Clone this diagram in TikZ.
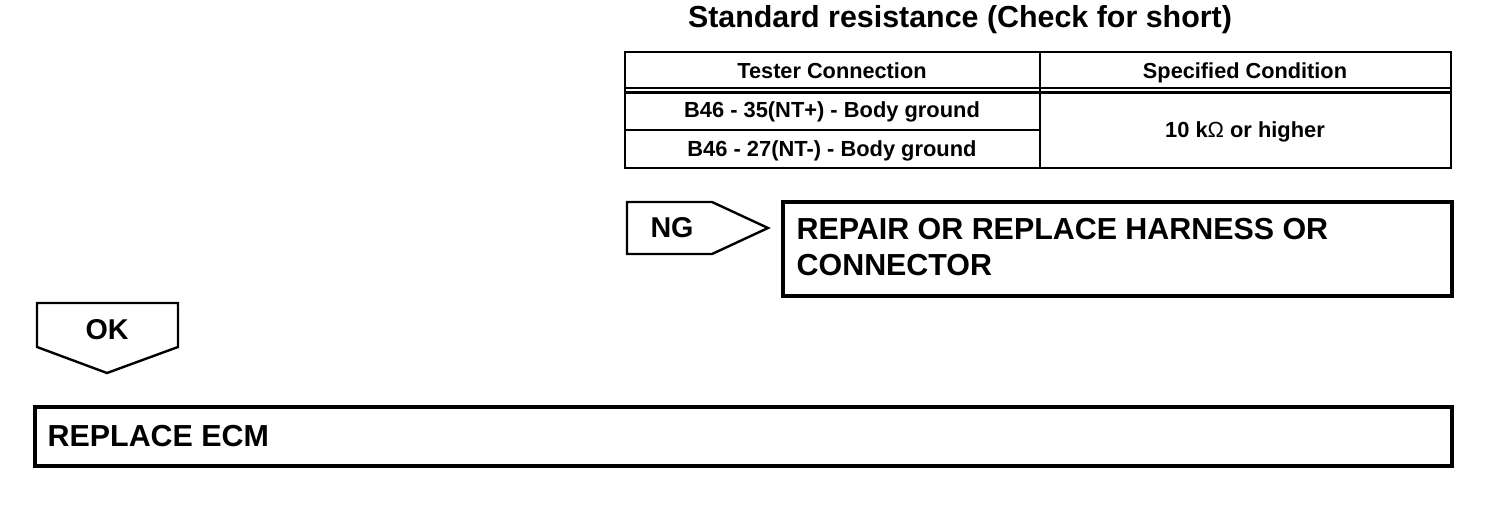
\documentclass[tikz,border=0pt]{standalone}
\usepackage{fontspec}
\setmainfont{Liberation Sans}
\usetikzlibrary{positioning}

\begin{document}
\begin{tikzpicture}[
  x=0.75pt,y=-0.75pt,
  frame/.style={draw=black,line width=2.6pt},
  rule/.style={draw=black,line width=1.8pt},
  head/.style={font=\bfseries\fontsize{16.3}{18}\selectfont,text height=0.72em,text depth=0.2em},
  cell/.style={font=\bfseries\fontsize{16.4}{18}\selectfont,text height=0.72em,text depth=0.2em},
  big/.style={font=\bfseries\fontsize{22.8}{27}\selectfont,align=left},
  tag/.style={font=\bfseries\fontsize{21.5}{23}\selectfont}
]
  \useasboundingbox (0,0) rectangle (1504,510);

  \node[font=\bfseries\fontsize{22.8}{26}\selectfont] (title) at (960,20)
    {Standard resistance (Check for short)};

  % resistance table
  \draw[rule] (625,52) rectangle (1451,168);
  \draw[rule] (1040,52) -- (1040,168);
  \draw[rule] (625,88) -- (1451,88);
  \draw[rule] (625,92.5) -- (1451,92.5);
  \draw[rule] (625,130) -- (1040,130);
  \node[head] (hdrconn) at (832,75) {Tester Connection};
  \node[head] (hdrcond) at (1245,75) {Specified Condition};
  \node[cell] (row1) at (832,114) {B46 - 35(NT+) - Body ground};
  \node[cell] (row2) at (832,153) {B46 - 27(NT-) - Body ground};
  \node[cell] (cond) at (1245,134) {10 k{\mdseries Ω} or higher};

  % NG branch
  \draw[rule] (627,202) -- (712,202) -- (768,228) -- (712,254) -- (627,254) -- cycle;
  \node[tag] (ng) at (672,228) {NG};
  \draw[frame] (783,202) rectangle (1452,296);
  \node[big,anchor=west] (repair) at (792,247) {REPAIR OR REPLACE HARNESS OR\\CONNECTOR};

  % OK branch
  \draw[rule] (37,303) -- (178,303) -- (178,347) -- (107,373) -- (37,347) -- cycle;
  \node[tag] (ok) at (107,330) {OK};
  \draw[frame] (35,407) rectangle (1452,466);
  \node[big,anchor=west] (ecm) at (43,436) {REPLACE ECM};
\end{tikzpicture}
\end{document}
